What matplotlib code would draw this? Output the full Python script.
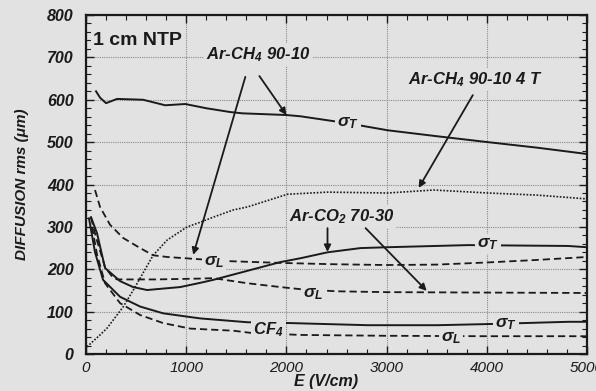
import matplotlib
matplotlib.use('Agg')
import matplotlib.pyplot as plt
from matplotlib.ticker import MultipleLocator

plt.rcParams['font.family'] = ['Liberation Sans', 'DejaVu Sans']
plt.rcParams['mathtext.fontset'] = 'custom'
plt.rcParams['mathtext.rm'] = 'Liberation Sans:bold:italic'
plt.rcParams['mathtext.it'] = 'Liberation Sans:bold:italic'
plt.rcParams['mathtext.bf'] = 'Liberation Sans:bold:italic'

# Ar-CH4 90-10, transverse (solid)
ch4_t_e = [100, 140, 200, 310, 570, 790, 990, 1200, 1440, 1560, 2000, 2140, 2600, 3010, 3500, 4010, 4500, 5000]
ch4_t_s = [620, 605, 592, 602, 600, 587, 590, 580, 571, 568, 564, 561, 545, 528, 514, 500, 487, 472]

# Ar-CH4 90-10 in 4 T (dotted)
ch4b_e = [10, 140, 210, 370, 470, 540, 670, 810, 1010, 1140, 1270, 1470, 1610, 2010, 2410, 3010, 3470, 4010, 4500, 5000]
ch4b_s = [17, 45, 61, 111, 150, 179, 233, 269, 300, 311, 323, 340, 347, 377, 382, 380, 387, 380, 375, 366]

# Ar-CH4 90-10, longitudinal (dashed)
ch4_l_e = [90, 140, 240, 370, 540, 670, 810, 1110, 1440, 1940, 2440, 3000, 3500, 4000, 4500, 5000]
ch4_l_s = [387, 347, 305, 274, 250, 233, 229, 224, 219, 215, 212, 210, 211, 216, 222, 229]

# Ar-CO2 70-30, transverse (solid)
co2_t_e = [50, 110, 190, 340, 470, 610, 940, 1140, 1270, 1940, 2140, 2410, 2740, 3010, 3810, 4810, 5000]
co2_t_s = [323, 285, 203, 172, 158, 151, 158, 168, 175, 217, 226, 240, 250, 252, 257, 255, 252]

# Ar-CO2 70-30, longitudinal (dashed)
co2_l_e = [50, 100, 190, 260, 310, 700, 1140, 1270, 1610, 1940, 2140, 2500, 3000, 4000, 5000]
co2_l_s = [322, 275, 205, 183, 176, 176, 178, 179, 167, 158, 153, 148, 146, 145, 144]

# CF4, transverse (solid)
cf4_t_e = [30, 90, 170, 340, 540, 770, 1140, 1610, 2040, 2810, 3510, 4070, 4810, 5000]
cf4_t_s = [320, 240, 175, 135, 112, 96, 84, 75, 73, 68, 68, 71, 76, 76]

# CF4, longitudinal (dashed)
cf4_l_e = [60, 110, 190, 340, 540, 770, 1040, 1470, 1640, 2140, 3000, 4000, 5000]
cf4_l_s = [300, 235, 167, 120, 92, 73, 60, 55, 50, 45, 43, 42, 42]

bg = '#e2e2e2'
ink = '#1a1a1a'

fig = plt.figure(figsize=(5.96, 3.91), dpi=100, facecolor=bg)
ax = fig.add_axes([0.1443, 0.0946, 0.8407, 0.867])
ax.set_facecolor(bg)

dash = (0, (4, 2.2))
ax.plot(ch4_t_e, ch4_t_s, color=ink, lw=1.4)
ax.plot(ch4b_e, ch4b_s, color=ink, lw=1.2, ls=(0, (1, 1)))
ax.plot(ch4_l_e, ch4_l_s, color=ink, lw=1.3, ls=dash)
ax.plot(co2_t_e, co2_t_s, color=ink, lw=1.4)
ax.plot(co2_l_e, co2_l_s, color=ink, lw=1.3, ls=dash)
ax.plot(cf4_t_e, cf4_t_s, color=ink, lw=1.4)
ax.plot(cf4_l_e, cf4_l_s, color=ink, lw=1.3, ls=dash)

ax.set_xlim(0, 5000)
ax.set_ylim(0, 800)
ax.xaxis.set_major_locator(MultipleLocator(1000))
ax.xaxis.set_minor_locator(MultipleLocator(200))
ax.yaxis.set_major_locator(MultipleLocator(100))
ax.yaxis.set_minor_locator(MultipleLocator(20))
ax.grid(True, which='major', color='#8a8a8a', ls=(0, (1, 1)), lw=0.8)
ax.set_axisbelow(True)

ax.tick_params(which='both', direction='in', top=True, right=True, color=ink)
ax.tick_params(which='major', length=6, width=1.0)
ax.tick_params(which='minor', length=3.5, width=0.8)
ax.tick_params(axis='y', pad=9)
ax.tick_params(axis='x', pad=5)
for s in ax.spines.values():
    s.set_linewidth(1.6)
    s.set_color(ink)

for lab in ax.get_yticklabels():
    lab.set_fontsize(11.5)
    lab.set_fontweight('bold')
    lab.set_fontstyle('italic')
    lab.set_color(ink)
for lab in ax.get_xticklabels():
    lab.set_fontsize(11)
    lab.set_fontstyle('italic')
    lab.set_family(['Liberation Sans Narrow', 'Liberation Sans'])
    lab.set_color(ink)

ax.set_ylabel('DIFFUSION rms (\u03bcm)', fontsize=11, fontweight='bold', fontstyle='italic', color=ink)
ax.yaxis.set_label_coords(-0.113, 0.5)
ax.set_xlabel('E (V/cm)', fontsize=11.5, fontweight='bold', fontstyle='italic', color=ink)
ax.xaxis.set_label_coords(0.48, -0.058)

box = dict(facecolor=bg, edgecolor='none', pad=1.5)
lbl = dict(fontsize=12, fontweight='bold', fontstyle='italic', color=ink,
           ha='center', va='center', bbox=box, zorder=5)
arr = dict(arrowstyle='-|>', color=ink, lw=1.3, mutation_scale=10, shrinkA=0, shrinkB=0)

ax.text(70, 741, '1 cm NTP', fontsize=14, fontweight='bold', color=ink,
        ha='left', va='center', bbox=box, zorder=5)

ax.text(1720, 706, r'Ar-CH$_4$ 90-10', **lbl)
ax.annotate('', xy=(2000, 564), xytext=(1730, 656), arrowprops=arr, zorder=6)
ax.annotate('', xy=(1070, 234), xytext=(1590, 654), arrowprops=arr, zorder=6)

ax.text(3880, 647, r'Ar-CH$_4$ 90-10 4 T', **lbl)
ax.annotate('', xy=(3320, 392), xytext=(3860, 611), arrowprops=arr, zorder=6)

ax.text(2550, 324, r'Ar-CO$_2$ 70-30', **lbl)
ax.annotate('', xy=(2410, 241), xytext=(2410, 297), arrowprops=arr, zorder=6)
ax.annotate('', xy=(3400, 149), xytext=(2790, 297), arrowprops=arr, zorder=6)

ax.text(1820, 58, r'CF$_4$', **lbl)

sig = dict(fontsize=12.5, color=ink, ha='center', va='center', bbox=box, zorder=5)
ax.text(2610, 545, r'$\sigma_T$', **sig)
ax.text(4010, 259, r'$\sigma_T$', **sig)
ax.text(4190, 70, r'$\sigma_T$', **sig)
ax.text(1280, 216, r'$\sigma_L$', **sig)
ax.text(2270, 141, r'$\sigma_L$', **sig)
ax.text(3640, 37, r'$\sigma_L$', **sig)

fig.savefig('out.png', dpi=100, facecolor=bg)
